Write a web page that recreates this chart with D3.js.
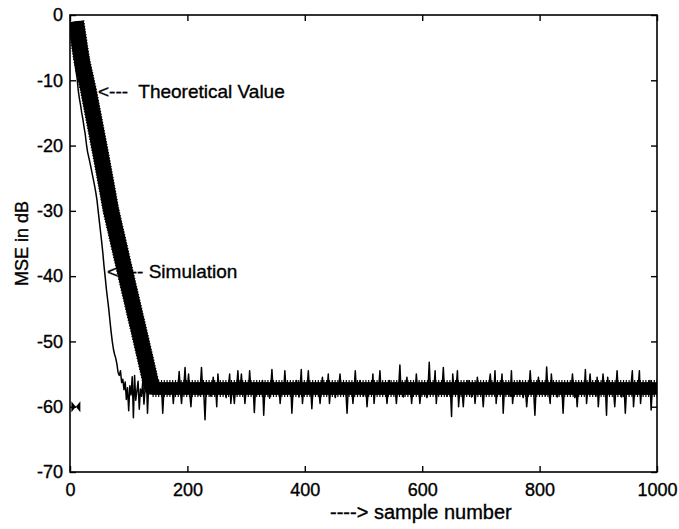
<!DOCTYPE html>
<html>
<head>
<meta charset="utf-8">
<script src="https://cdn.jsdelivr.net/npm/d3@7"></script>
<style>
	body { margin: 0; background: #fff; }
	svg text { font-family: "Liberation Sans", Arial, sans-serif; fill: #000; stroke: #000; stroke-width: 0.35px; }
</style>
</head>
<body>
<svg id="chart" width="679" height="529"></svg>
<script>
const xTicks = [0, 200, 400, 600, 800, 1000]
const yTicks = [-70, -60, -50, -40, -30, -20, -10, 0]

const theorySamples = [10, 20, 32, 51, 70, 95, 121, 140, 1000]
const theoryDb = [-1, -6.9, -11.8, -20.7, -30, -39.8, -49.8, -57.2, -57.2]

// simulated MSE in dB, one reading every simStep samples starting at sample 0
const simStep = 2
const simDb = [
	-1.0, -2.0, -4.0, -5.5, -7.0, -8.5, -9.6, -11.5, -12.8, -13.8,	// 0
	-15.0, -16.0, -17.2, -18.3, -19.8, -21.0, -21.8, -22.6, -23.5, -24.4,	// 20
	-25.3, -26.2, -27.2, -28.4, -30.0, -31.6, -33.2, -34.8, -36.5, -38.5,	// 40
	-40.2, -42.0, -43.5, -45.0, -46.8, -48.5, -50.0, -51.2, -52.0, -52.6,	// 60
	-53.5, -54.8, -55.2, -54.5, -56.3, -55.8, -57.4, -56.2, -58.9, -57.1,	// 80
	-60.6, -56.8, -58.2, -55.4, -61.7, -55.2, -59.0, -57.6, -56.1, -60.4,	// 100
	-57.3, -58.4, -56.1, -59.6, -57.2, -55.0, -61.0, -56.9, -58.0, -56.2,	// 120
	-57.8,	// 140
	-57.6, -56.8, -57.9, -57.1, -56.6, -58.0, -57.3, -56.9, -61.0, -57.4, -57.8, -56.7, -57.2, -58.1, -56.9, -57.5, -57.0, -59.5, -57.3, -56.8,	// 142
	-57.7, -57.0, -54.6, -57.4, -59.5, -57.1, -56.8, -54.0, -57.6, -57.2, -55.0, -57.9, -60.0, -57.3, -56.7, -57.8, -57.1, -56.4, -57.5, -58.2,	// 182
	-57.0, -54.0, -57.4, -57.9, -62.0, -57.2, -56.8, -57.6, -57.0, -58.4, -57.3, -55.5, -57.7, -56.9, -60.0, -55.0, -57.4, -57.9, -57.1, -56.6,	// 222
	-57.8, -57.2, -58.6, -57.0, -56.8, -55.0, -59.5, -57.3, -57.7, -59.5, -57.1, -56.9, -54.5, -57.6, -57.2, -55.0, -57.8, -57.0, -59.5, -57.4,	// 262
	-56.7, -57.9, -54.5, -57.2, -57.6, -56.9, -60.9, -57.3, -57.8, -56.5, -57.1, -57.7, -57.0, -56.0, -61.3, -57.4, -57.9, -56.8, -57.2, -58.7,	// 302
	-57.1, -54.3, -57.6, -57.0, -56.9, -57.8, -57.2, -56.5, -59.5, -57.4, -57.0, -57.7, -54.5, -57.3, -56.8, -57.9, -57.1, -56.6, -61.0, -57.5,	// 342
	-57.0, -57.8, -56.0, -57.3, -58.5, -57.1, -54.3, -59.5, -57.4, -56.9, -57.7, -57.2, -54.5, -57.6, -57.0, -60.3, -57.3, -56.8, -57.9, -57.1,	// 382
	-56.4, -57.6, -59.5, -57.2, -55.5, -57.8, -57.0, -56.9, -57.5, -55.0, -59.5, -57.3, -57.9, -56.7, -57.2, -58.6, -57.0, -57.6, -56.8, -55.0,	// 422
	-57.4, -57.9, -57.1, -56.6, -57.7, -61.0, -57.2, -56.9, -57.8, -57.0, -59.5, -57.3, -54.5, -57.6, -57.1, -56.8, -56.0, -57.9, -57.2, -58.4,	// 462
	-57.0, -56.7, -60.0, -57.5, -57.1, -56.9, -57.8, -55.0, -59.5, -57.3, -56.8, -57.6, -57.0, -54.5, -57.7, -57.2, -56.5, -57.9, -57.1, -59.5,	// 502
	-57.4, -56.0, -57.8, -57.0, -56.8, -57.6, -57.2, -59.5, -57.3, -56.9, -53.6, -57.7, -57.1, -58.5, -57.0, -56.7, -55.5, -57.8, -57.2, -56.9,	// 542
	-59.5, -57.4, -57.0, -57.9, -55.0, -57.3, -56.8, -59.5, -57.6, -57.1, -56.6, -57.8, -57.2, -58.6, -57.0, -53.2, -57.5, -57.9, -56.9, -57.3,	// 582
	-54.5, -59.5, -57.1, -57.7, -56.8, -57.4, -57.0, -54.0, -57.6, -57.2, -58.4, -56.9, -57.8, -57.1, -61.5, -55.0, -57.3, -57.9, -57.0, -54.5,	// 622
	-60.0, -57.4, -56.8, -57.7, -60.0, -57.2, -56.6, -57.9, -56.0, -57.3, -57.0, -58.5, -57.6, -56.9, -59.5, -57.4, -55.5, -57.8, -57.1, -56.7,	// 662
	-57.5, -60.0, -57.2, -56.9, -57.8, -57.0, -56.4, -55.0, -57.6, -57.3, -57.9, -54.5, -59.5, -57.1, -56.8, -57.7, -57.2, -55.0, -61.0, -57.4,	// 702
	-57.0, -57.9, -56.7, -57.3, -58.4, -54.5, -59.5, -57.6, -57.1, -56.9, -57.8, -57.2, -56.0, -57.5, -57.0, -58.6, -56.8, -57.4, -60.0, -57.7,	// 742
	-57.1, -54.5, -57.3, -56.9, -57.8, -61.3, -57.2, -57.0, -55.5, -57.6, -57.9, -56.6, -57.3, -57.0, -58.3, -53.9, -57.4, -57.8, -59.5, -55.0,	// 782
	-57.2, -56.8, -57.7, -57.1, -58.5, -57.4, -56.5, -57.9, -57.0, -61.0, -57.3, -56.9, -57.6, -57.2, -56.4, -57.8, -57.1, -55.0, -57.5, -58.6,	// 822
	-57.0, -60.0, -57.3, -56.8, -57.7, -57.2, -56.6, -57.9, -54.3, -59.5, -57.4, -57.0, -55.0, -57.6, -57.8, -56.9, -57.2, -58.4, -55.5, -60.0,	// 862
	-57.3, -57.0, -57.8, -55.0, -57.1, -56.8, -61.3, -55.5, -57.4, -57.9, -57.0, -56.7, -57.6, -60.0, -57.2, -54.5, -57.8, -57.1, -56.9, -58.5,	// 902
	-57.3, -57.0, -61.0, -57.6, -56.8, -57.9, -57.2, -56.5, -54.5, -60.0, -57.4, -57.0, -57.8, -56.9, -54.5, -59.5, -57.2, -57.7, -56.6, -57.3,	// 942
	-57.9, -57.0, -56.8, -56.0, -60.5, -57.4, -57.1, -57.8, -56.9, -57.3	// 982
]

// lone marker sitting on the y axis
const markSamples = [10]
const markDb = [-60]

const yTitle = "MSE in dB"
const xTitle = "----> sample number"
const theoryNote = "<---  Theoretical Value"
const simNote = "<---- Simulation"

const CONFIG = {
	w: 679, h: 529,
	margin: {top: 15, right: 22, bottom: 57, left: 70},
	tickLen: 6,			//ticks point into the box on all four sides
	fontSize: 18,
	noteSize: 19,		//annotations are a touch larger
	xTitleSize: 20,
	bandWidth: 12,		//thick theoretical trace (marker-drawn in the original)
	penShift: [-2, 0, 2],	//horizontal smear so the steep part comes out wider, like a row of markers
}

const innerW = CONFIG.w - CONFIG.margin.left - CONFIG.margin.right
const innerH = CONFIG.h - CONFIG.margin.top - CONFIG.margin.bottom

const svg = d3.select("#chart")
const g = svg.append("g").attr("transform", `translate(${CONFIG.margin.left},${CONFIG.margin.top})`)

svg.append("defs").append("clipPath").attr("id", "plot-clip")
	.append("rect").attr("width", innerW).attr("height", innerH)

const x = d3.scaleLinear().domain([0, 1000]).range([0, innerW])
const y = d3.scaleLinear().domain([-70, 0]).range([innerH, 0])

const styleAxis = sel => {
	sel.attr("font-size", CONFIG.fontSize).attr("font-family", null)
	sel.select(".domain").remove()
	sel.selectAll(".tick line").attr("stroke", "#000").attr("stroke-width", 1.4)
}

g.append("g").attr("transform", `translate(0,${innerH})`)
	.call(d3.axisBottom(x).tickValues(xTicks).tickSizeInner(-CONFIG.tickLen).tickSizeOuter(0).tickPadding(11).tickFormat(d => d))
	.call(styleAxis)
g.append("g")
	.call(d3.axisTop(x).tickValues(xTicks).tickSizeInner(-CONFIG.tickLen).tickSizeOuter(0).tickFormat(() => ""))
	.call(styleAxis)
g.append("g")
	.call(d3.axisLeft(y).tickValues(yTicks).tickSizeInner(-CONFIG.tickLen).tickSizeOuter(0).tickPadding(7).tickFormat(d => d))
	.call(styleAxis)
g.append("g").attr("transform", `translate(${innerW},0)`)
	.call(d3.axisRight(y).tickValues(yTicks).tickSizeInner(-CONFIG.tickLen).tickSizeOuter(0).tickFormat(() => ""))
	.call(styleAxis)

const line = d3.line().x(d => x(d.s)).y(d => y(d.db))

const theory = theorySamples.map((s, i) => ({s, db: theoryDb[i]}))
const sim = simDb.map((db, i) => ({s: i * simStep, db}))

const plot = g.append("g").attr("clip-path", "url(#plot-clip)")

// thick band: same path drawn with small sideways shifts
plot.selectAll(".band").data(CONFIG.penShift)
	.join("path").attr("class", "band")
	.attr("transform", dx => `translate(${dx},0)`)
	.attr("d", line(theory))
	.attr("fill", "none").attr("stroke", "#000")
	.attr("stroke-width", CONFIG.bandWidth)
	.attr("stroke-linejoin", "round")

// ragged fringe round the band
plot.append("path")
	.attr("d", line(theory))
	.attr("fill", "none").attr("stroke", "#000")
	.attr("stroke-width", CONFIG.bandWidth + 5)
	.attr("stroke-dasharray", "1.2,1.6")
	.attr("stroke-linejoin", "round")

plot.append("path").datum(sim)
	.attr("d", line)
	.attr("fill", "none").attr("stroke", "#000")
	.attr("stroke-width", 1.5)
	.attr("stroke-linejoin", "round")

plot.selectAll(".mark").data(markSamples.map((s, i) => ({s, db: markDb[i]})))
	.join("path").attr("class", "mark")
	.attr("transform", d => `translate(${x(d.s)},${y(d.db)})`)
	.attr("d", "M-4.5,-5.5L4.5,5.5L4.5,-5.5L-4.5,5.5Z")
	.attr("fill", "#000")

// box
g.append("rect").attr("width", innerW).attr("height", innerH)
	.attr("fill", "none").attr("stroke", "#000").attr("stroke-width", 1.6)

// titles and notes
svg.append("text")
	.attr("transform", `translate(28,${CONFIG.margin.top + innerH / 2}) rotate(-90)`)
	.attr("text-anchor", "middle").attr("font-size", CONFIG.fontSize)
	.text(yTitle)

svg.append("text")
	.attr("x", 330).attr("y", 519)
	.attr("font-size", CONFIG.xTitleSize)
	.text(xTitle)

svg.append("text")
	.attr("x", 98).attr("y", 98)
	.attr("font-size", CONFIG.noteSize).style("white-space", "pre")
	.text(theoryNote)

svg.append("text")
	.attr("x", 107).attr("y", 278)
	.attr("font-size", CONFIG.noteSize).style("white-space", "pre")
	.text(simNote)
</script>
</body>
</html>
